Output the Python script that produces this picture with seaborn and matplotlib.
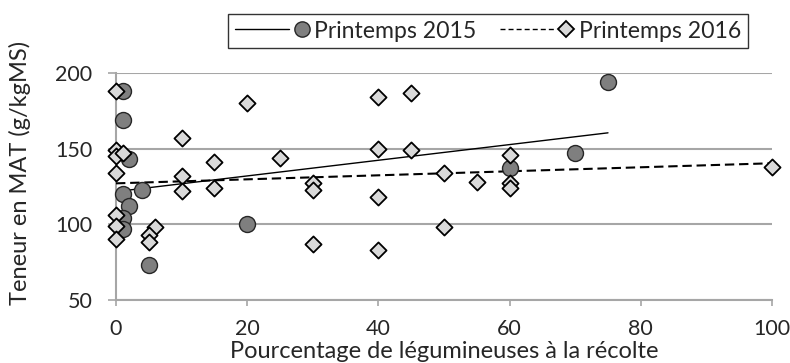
import numpy as np
import pandas as pd
import matplotlib
matplotlib.use("Agg")
import matplotlib.pyplot as plt
import seaborn as sns
from matplotlib.lines import Line2D
from matplotlib.legend_handler import HandlerBase

# ---- data ----
x_2015 = [1, 1, 2, 1, 4, 2, 1, 1, 5, 20, 60, 70, 75]
y_2015 = [188, 169, 143, 120, 123, 112, 104, 97, 73, 100, 137, 147, 194]

x_2016 = [0, 10, 20, 0, 0, 1, 0, 10, 10, 15, 15, 0, 0, 0, 6, 5, 5,
          40, 45, 25, 40, 45, 30, 30, 40, 50, 55, 60, 60, 60, 50, 30, 40, 100]
y_2016 = [188, 157, 180, 149, 145, 147, 134, 132, 122, 141, 124, 106, 99, 90, 98, 93, 88,
          184, 187, 144, 150, 149, 127, 123, 118, 134, 128, 146, 127, 124, 98, 87, 83, 138]

series_labels = ["Printemps 2015", "Printemps 2016"]
x_ticks = [0, 20, 40, 60, 80, 100]
y_ticks = [50, 100, 150, 200]
x_label = "Pourcentage de légumineuses à la récolte"
y_label = "Teneur en MAT (g/kgMS)"

df15 = pd.DataFrame({"x": x_2015, "y": y_2015})
df16 = pd.DataFrame({"x": x_2016, "y": y_2016})

sns.set_theme(style="white")
plt.rcParams["font.family"] = ["Lato", "DejaVu Sans"]
TXT = "#262626"
GRID = "#a6a6a6"

fig = plt.figure(figsize=(7.9, 3.63), dpi=100)
ax = fig.add_axes([116 / 790, 1 - 300 / 363, (772 - 116) / 790, (300 - 73) / 363])

# trend lines
sns.regplot(data=df15, x="x", y="y", ax=ax, scatter=False, ci=None, truncate=True,
            line_kws=dict(color="black", lw=1.0, linestyle="-", zorder=3))
sns.regplot(data=df16, x="x", y="y", ax=ax, scatter=False, ci=None, truncate=True,
            line_kws=dict(color="black", lw=1.5, linestyle=(0, (4.5, 2.3)), zorder=3))

# points
sns.scatterplot(data=df15, x="x", y="y", ax=ax, marker="o", s=11.5 ** 2,
                color="#7f7f7f", edgecolor="#262626", linewidth=1.0, zorder=4,
                clip_on=False, legend=False)
sns.scatterplot(data=df16, x="x", y="y", ax=ax, marker="D", s=8.2 ** 2,
                color="#d9d9d9", edgecolor="black", linewidth=1.3, zorder=5,
                clip_on=False, legend=False)

ax.set_xlim(0, 100)
ax.set_ylim(50, 200)
ax.set_xticks(x_ticks)
ax.set_yticks(y_ticks)
ax.yaxis.grid(True, color=GRID, lw=1.5)
ax.set_axisbelow(True)
for s in ["top", "right"]:
    ax.spines[s].set_visible(False)
for s in ["left", "bottom"]:
    ax.spines[s].set_color(GRID)
    ax.spines[s].set_linewidth(1.5)
ax.tick_params(axis="both", which="both", direction="out", width=1.2,
               color=GRID, labelsize=15.5, labelcolor=TXT)
ax.tick_params(axis="x", length=4, pad=10)
ax.tick_params(axis="y", length=6, pad=11)
ax.tick_params(left=True, bottom=True)
ax.set_xlabel(x_label, fontsize=17, color=TXT)
ax.set_ylabel(y_label, fontsize=17, color=TXT)
ax.xaxis.set_label_coords(0.5, -0.18)
ax.yaxis.set_label_coords(-0.13, 0.56)


class LM:
    def __init__(self, ls, lw, marker, mfc, mec, ms, mew):
        self.ls, self.lw, self.marker = ls, lw, marker
        self.mfc, self.mec, self.ms, self.mew = mfc, mec, ms, mew


class LMHandler(HandlerBase):
    def create_artists(self, legend, h, xdescent, ydescent, width, height, fontsize, trans):
        y = height / 2 - ydescent
        x0 = -xdescent
        line = Line2D([x0, x0 + width * 0.72], [y, y], color="black", lw=h.lw, linestyle=h.ls)
        mk = Line2D([x0 + width * 0.88], [y], marker=h.marker, markersize=h.ms,
                    markerfacecolor=h.mfc, markeredgecolor=h.mec, markeredgewidth=h.mew,
                    linestyle="none")
        line.set_transform(trans)
        mk.set_transform(trans)
        return [line, mk]


handles = [LM("-", 1.0, "o", "#7f7f7f", "#262626", 11, 1.0),
           LM((0, (3.6, 2.2)), 1.0, "D", "#d9d9d9", "black", 8, 1.3)]
leg = fig.legend(handles, series_labels, handler_map={LM: LMHandler()}, ncol=2,
                 loc="center", bbox_to_anchor=(488 / 790, 1 - 31 / 363),
                 fontsize=16.6, frameon=True, fancybox=False, handlelength=3.3,
                 handletextpad=0.15, columnspacing=1.0, borderpad=0.3)
leg.get_frame().set_edgecolor("black")
leg.get_frame().set_linewidth(1.0)
for t in leg.get_texts():
    t.set_color(TXT)

fig.savefig("out.png", dpi=100)
